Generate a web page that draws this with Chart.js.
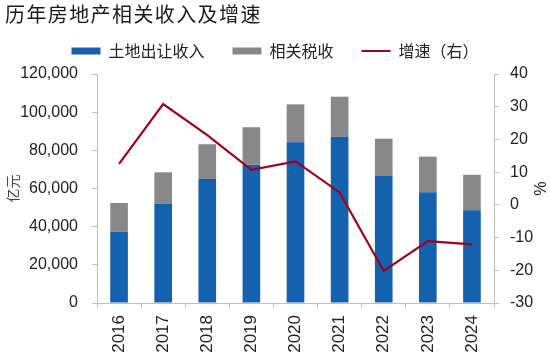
<!DOCTYPE html>
<html>
<head>
<meta charset="utf-8">
<script src="https://cdn.jsdelivr.net/npm/chart.js@4"></script>
<style>
  html, body { margin: 0; padding: 0; background: #fff; }
  #wrap { position: relative; width: 550px; height: 359px; }
  #title { position: absolute; left: 5px; top: 1px; font-family: "Noto Sans CJK SC", sans-serif; font-size: 20px; line-height: 26px; letter-spacing: 1.4px; color: #1a1a1a; }
  canvas { position: absolute; left: 0; top: 0; }
</style>
</head>
<body>
<div id="wrap">
  <canvas id="c" width="550" height="359"></canvas>
  <div id="title">历年房地产相关收入及增速</div>
</div>
<script>
const categories = ['2016', '2017', '2018', '2019', '2020', '2021', '2022', '2023', '2024'];
const landSales = [37500, 51900, 65000, 72500, 84200, 87100, 66800, 58000, 48600];
const relatedTaxes = [14900, 16600, 18200, 19600, 19900, 21000, 19300, 18700, 18600];
const growthRate = [12.5, 30.8, 21.3, 10.7, 13.3, 3.8, -20.2, -11.1, -12.1];
const leftTicks = [0, 20000, 40000, 60000, 80000, 100000, 120000];
const rightTicks = [-30, -20, -10, 0, 10, 20, 30, 40];

const axisColor = '#bfbfbf';
const textColor = '#222';
const tickFont = { family: '"Liberation Sans", Arial, sans-serif', size: 16 };
const cjk = '"Noto Sans CJK SC", sans-serif';

const legendMargin = {
  id: 'legendMargin',
  beforeInit(chart) {
    const orig = chart.legend.fit;
    chart.legend.fit = function () { orig.bind(chart.legend)(); this.height += 5; };
  }
};

new Chart(document.getElementById('c'), {
  type: 'bar',
  data: {
    labels: categories,
    datasets: [
      { label: '土地出让收入', data: landSales, backgroundColor: '#1461ae', yAxisID: 'y', stack: 's', order: 2 },
      { label: '相关税收', data: relatedTaxes, backgroundColor: '#888888', yAxisID: 'y', stack: 's', order: 2 },
      { type: 'line', label: '增速（右）', data: growthRate, borderColor: '#a3001e', backgroundColor: '#a3001e', borderWidth: 2.2, pointRadius: 0, tension: 0, yAxisID: 'y1', order: 0 }
    ]
  },
  plugins: [legendMargin],
  options: {
    responsive: false,
    animation: false,
    layout: { padding: { top: 15, left: 0, right: 0, bottom: 0 } },
    datasets: { bar: { categoryPercentage: 0.8, barPercentage: 0.5 } },
    plugins: {
      title: { display: false },
      tooltip: { enabled: false },
      legend: {
        position: 'top',
        labels: {
          font: { family: cjk, size: 16 },
          color: textColor,
          usePointStyle: true,
          pointStyleWidth: 29,
          boxHeight: 7,
          padding: 28,
          sort: (a, b) => a.datasetIndex - b.datasetIndex,
          generateLabels(chart) {
            const items = Chart.defaults.plugins.legend.labels.generateLabels(chart);
            items.forEach(it => {
              const ds = chart.data.datasets[it.datasetIndex];
              if (ds.type === 'line') {
                it.pointStyle = 'line';
                it.lineWidth = 2;
                it.strokeStyle = ds.borderColor;
              } else {
                it.pointStyle = 'rect';
                it.lineWidth = 0;
                it.fillStyle = ds.backgroundColor;
              }
            });
            return items;
          }
        }
      }
    },
    scales: {
      x: {
        stacked: true,
        afterFit(scale) { scale.height = 56; },
        grid: { offset: true, drawOnChartArea: false, drawTicks: true, tickLength: 5, color: axisColor },
        border: { color: axisColor },
        ticks: { font: { family: tickFont.family, size: 17 }, color: textColor, minRotation: 90, maxRotation: 90, padding: 7 }
      },
      y: {
        stacked: true,
        position: 'left',
        min: 0, max: 120000,
        afterFit(scale) { scale.width = 97; },
        afterBuildTicks(scale) { scale.ticks = leftTicks.map(v => ({ value: v })); },
        grid: { drawOnChartArea: false, drawTicks: true, tickLength: 5, color: axisColor },
        border: { color: axisColor },
        ticks: { font: tickFont, color: textColor, padding: 14, callback: v => v.toLocaleString('en-US') },
        title: { display: true, text: '亿元', font: { family: cjk, size: 14 }, color: '#444', padding: { top: 4, bottom: 0 } }
      },
      y1: {
        position: 'right',
        min: -30, max: 40,
        afterFit(scale) { scale.width = 56; },
        afterBuildTicks(scale) { scale.ticks = rightTicks.map(v => ({ value: v })); },
        grid: { drawOnChartArea: false, drawTicks: true, tickLength: 5, color: axisColor },
        border: { color: axisColor },
        ticks: { font: tickFont, color: textColor, padding: 11 },
        title: { display: true, text: '%', font: { family: tickFont.family, size: 16 }, color: textColor, padding: { top: 2, bottom: 0 } }
      }
    }
  }
});
</script>
</body>
</html>
